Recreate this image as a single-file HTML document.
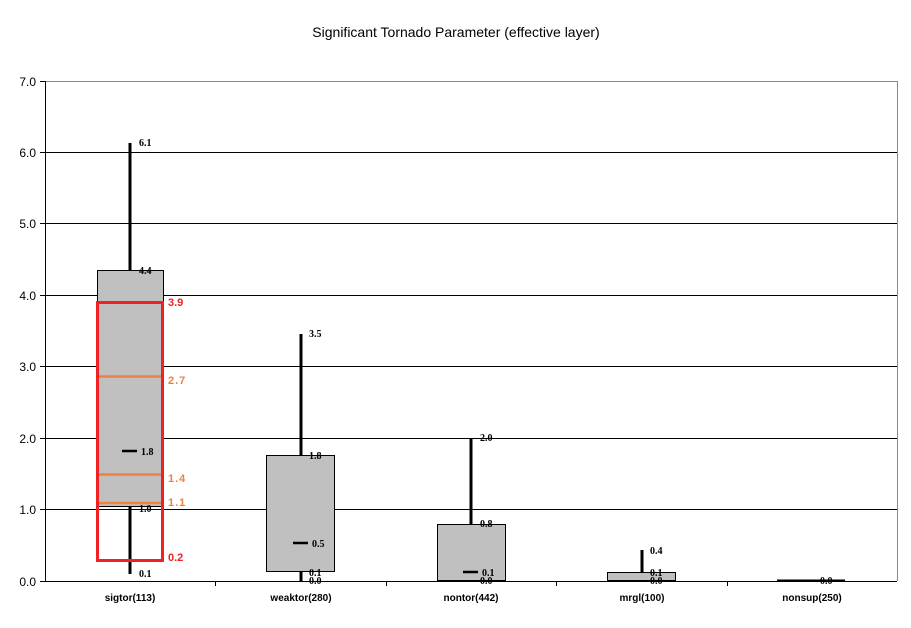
<!DOCTYPE html>
<html><head><style>body{margin:0;background:#fff}</style></head><body>
<svg width="911" height="623" xmlns="http://www.w3.org/2000/svg" font-family="Liberation Sans, sans-serif">
<rect width="911" height="623" fill="#fff"/>
<text x="456" y="37" font-size="14" text-anchor="middle">Significant Tornado Parameter (effective layer)</text>
<g stroke="#000" stroke-width="1">
<line x1="45" y1="509.5" x2="897" y2="509.5"/><line x1="45" y1="438.5" x2="897" y2="438.5"/>
<line x1="45" y1="366.5" x2="897" y2="366.5"/><line x1="45" y1="295.5" x2="897" y2="295.5"/>
<line x1="45" y1="223.5" x2="897" y2="223.5"/><line x1="45" y1="152.5" x2="897" y2="152.5"/>
</g>
<line x1="45" y1="81.5" x2="897" y2="81.5" stroke="#888"/>
<line x1="897.5" y1="81" x2="897.5" y2="581" stroke="#888"/>
<line x1="45.5" y1="81" x2="45.5" y2="581" stroke="#000"/>
<line x1="45" y1="581.5" x2="897" y2="581.5" stroke="#000"/>
<g stroke="#000"><line x1="40" y1="81.5" x2="45" y2="81.5"/><line x1="40" y1="152.5" x2="45" y2="152.5"/><line x1="40" y1="223.5" x2="45" y2="223.5"/><line x1="40" y1="295.5" x2="45" y2="295.5"/><line x1="40" y1="366.5" x2="45" y2="366.5"/><line x1="40" y1="438.5" x2="45" y2="438.5"/><line x1="40" y1="509.5" x2="45" y2="509.5"/><line x1="40" y1="581.5" x2="45" y2="581.5"/>
<line x1="215.5" y1="581" x2="215.5" y2="586"/><line x1="386.5" y1="581" x2="386.5" y2="586"/><line x1="556.5" y1="581" x2="556.5" y2="586"/><line x1="727.5" y1="581" x2="727.5" y2="586"/></g>
<g font-size="12" text-anchor="end"><text x="36" y="86">7.0</text><text x="36" y="157">6.0</text><text x="36" y="228">5.0</text><text x="36" y="300">4.0</text><text x="36" y="371">3.0</text><text x="36" y="443">2.0</text><text x="36" y="514">1.0</text><text x="36" y="586">0.0</text></g>
<g font-size="10" font-weight="bold" text-anchor="middle"><text x="130" y="601">sigtor(113)</text><text x="301" y="601">weaktor(280)</text><text x="471" y="601">nontor(442)</text><text x="642" y="601">mrgl(100)</text><text x="812" y="601">nonsup(250)</text></g>
<g stroke="#000" stroke-width="3">
<line x1="130" y1="574" x2="130" y2="143"/><line x1="301" y1="581" x2="301" y2="334"/><line x1="471" y1="581" x2="471" y2="438"/><line x1="642" y1="581" x2="642" y2="550"/></g>
<g fill="#c0c0c0" stroke="#000" stroke-width="1">
<rect x="97.5" y="270.5" width="66" height="236"/><rect x="266.5" y="455.5" width="68" height="116"/><rect x="437.5" y="524.5" width="68" height="56"/><rect x="607.5" y="572.5" width="68" height="8"/></g>
<line x1="777" y1="580.5" x2="845" y2="580.5" stroke="#000" stroke-width="2"/>
<g stroke="#000" stroke-width="2.5"><line x1="122" y1="451" x2="137" y2="451"/><line x1="293" y1="543" x2="308" y2="543"/><line x1="463" y1="572" x2="478" y2="572"/></g>
<rect x="97.5" y="302.5" width="65" height="258" fill="none" stroke="#ee2222" stroke-width="3"/>
<g stroke="#f08040" stroke-width="2.5"><line x1="99" y1="376.5" x2="161" y2="376.5"/><line x1="99" y1="474.5" x2="161" y2="474.5"/><line x1="99" y1="503" x2="161" y2="503"/></g>
<g font-size="10" font-weight="bold" font-family="Liberation Serif, serif">
<text x="139" y="146">6.1</text><text x="139" y="274">4.4</text><text x="141" y="455">1.8</text><text x="139" y="512">1.0</text><text x="139" y="577">0.1</text>
<text x="309" y="337">3.5</text><text x="309" y="459">1.8</text><text x="312" y="547">0.5</text><text x="309" y="576">0.1</text><text x="309" y="584">0.0</text>
<text x="480" y="441">2.0</text><text x="480" y="527">0.8</text><text x="482" y="576">0.1</text><text x="480" y="584">0.0</text>
<text x="650" y="554">0.4</text><text x="650" y="576">0.1</text><text x="650" y="584">0.0</text><text x="820" y="584">0.0</text></g>
<g font-size="11" font-weight="bold"><text x="168" y="306" fill="#ee2222">3.9</text><text x="168" y="384" fill="#f08040" letter-spacing="1">2.7</text><text x="168" y="482" fill="#f08040" letter-spacing="1">1.4</text><text x="168" y="506" fill="#f08040" letter-spacing="1">1.1</text><text x="168" y="561" fill="#ee2222">0.2</text></g>
</svg>
</body></html>
